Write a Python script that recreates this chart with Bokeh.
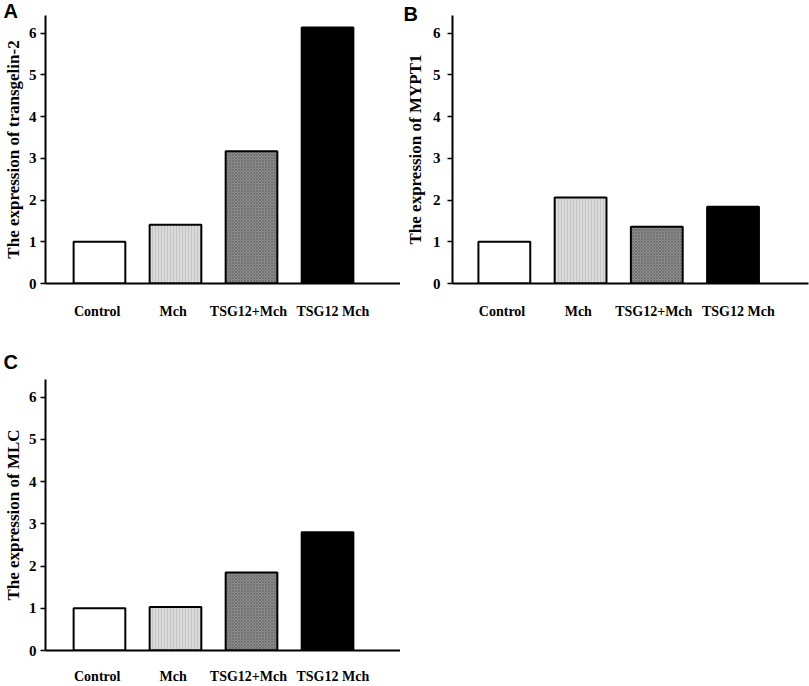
from bokeh.plotting import figure
from bokeh.models import (ColumnDataSource, Range1d, FixedTicker, LinearAxis, Title)
from bokeh.layouts import column, row
from bokeh.embed import file_html
from bokeh.resources import INLINE

categories = ["Control", "Mch", "TSG12+Mch", "TSG12 Mch"]
positions = [1, 2, 3, 4]
transgelin2 = [1.0, 1.41, 3.17, 6.13]
mypt1 = [1.0, 2.06, 1.36, 1.84]
mlc = [1.0, 1.03, 1.85, 2.80]
y_ticks = [0, 1, 2, 3, 4, 5, 6]

# style: small horizontal nudges of the category labels (data units)
label_nudge = [-0.03, -0.03, -0.04, 0.07]
fills = ["#ffffff", "#dadada", "#8e8e8e", "#000000"]
hatches = [" ", "|", "x", " "]
hatch_colors = ["#ffffff", "#b4b4b4", "#5e5e5e", "#000000"]

SERIF = "Liberation Serif"
SANS = "Liberation Sans"


def panel(values, ylabel, letter, width, height, left, top, bottom, right,
          x_start, x_end, tick_standoff, label_standoff, x_standoff,
          letter_offset, letter_standoff):
    p = figure(width=width, height=height, output_backend="svg",
               toolbar_location=None, x_axis_type=None, y_axis_type=None,
               x_range=Range1d(x_start, x_end), y_range=Range1d(0, 6.42),
               min_border_left=left, min_border_top=top,
               min_border_bottom=bottom, min_border_right=right)
    p.outline_line_color = None
    p.grid.visible = False
    p.background_fill_color = "white"
    p.border_fill_color = "white"

    src = ColumnDataSource(dict(x=positions, top=values, fill=fills,
                                hatch=hatches, hcol=hatch_colors))
    p.vbar(x="x", top="top", bottom=0, width=0.68, source=src,
           fill_color="fill", line_color="black", line_width=2,
           hatch_pattern="hatch", hatch_color="hcol", hatch_scale=3,
           hatch_weight=1, hatch_alpha=0.6)

    ya = LinearAxis(ticker=FixedTicker(ticks=y_ticks))
    ya.axis_line_width = 2
    ya.axis_line_color = "black"
    ya.major_tick_line_width = 1.5
    ya.major_tick_out = 5
    ya.major_tick_in = 0
    ya.minor_tick_line_color = None
    ya.major_label_standoff = tick_standoff
    ya.major_label_text_font = SERIF
    ya.major_label_text_font_style = "bold"
    ya.major_label_text_font_size = "15px"
    ya.major_label_text_color = "black"
    ya.axis_label = ylabel
    ya.axis_label_text_font = SERIF
    ya.axis_label_text_font_style = "bold"
    ya.axis_label_text_font_size = "17px"
    ya.axis_label_text_color = "black"
    ya.axis_label_standoff = label_standoff
    p.add_layout(ya, "left")

    label_pos = [pos + d for pos, d in zip(positions, label_nudge)]
    xa = LinearAxis(ticker=FixedTicker(ticks=label_pos),
                    major_label_overrides={lp: c for lp, c in zip(label_pos, categories)})
    xa.axis_line_width = 2
    xa.axis_line_color = "black"
    xa.major_tick_line_color = None
    xa.minor_tick_line_color = None
    xa.major_label_standoff = x_standoff
    xa.major_label_text_font = SERIF
    xa.major_label_text_font_style = "bold"
    xa.major_label_text_font_size = "14px"
    xa.major_label_text_color = "black"
    p.add_layout(xa, "below")

    t = Title(text=letter, align="left", offset=letter_offset,
              vertical_align="bottom", standoff=letter_standoff,
              text_font=SANS, text_font_style="bold",
              text_font_size="20px", text_color="black")
    p.add_layout(t, "above")
    return p


pA = panel(transgelin2, "The expression of transgelin-2", "A",
           400, 322, 45, 15, 39, 0, 0.29, 4.96, 4, 3, 14, -42, -12)
pB = panel(mypt1, "The expression of MYPT1", "B",
           409, 322, 52, 9, 39, 1, 0.32, 4.99, 7, 5, 14, -49, -18)
pC = panel(mlc, "The expression of MLC", "C",
           400, 364, 45, 57, 34, 0, 0.29, 4.96, 4, 3, 12, -42, 14)

layout = column(row(pA, pB), pC)
open("out.html", "w").write(file_html(layout, INLINE))
